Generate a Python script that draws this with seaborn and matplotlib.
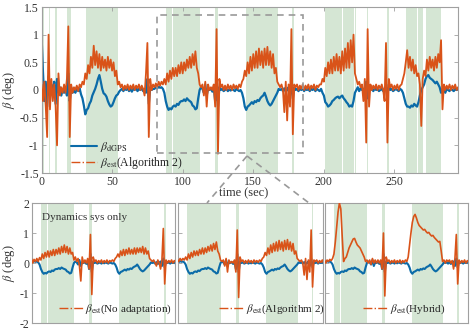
import numpy as np
import matplotlib
matplotlib.use("Agg")
import matplotlib.pyplot as plt
from matplotlib.lines import Line2D
from matplotlib.patches import Rectangle
import seaborn as sns

# ---------------- data (1 s samples) ----------------
t_main = list(range(0, 296))

beta_dgps = [
    1.0, 0.35, -0.2, 0.15, -0.3, 0.25, -0.1, 0.1, -0.05, 0.15,
    -0.25, 0.2, -0.05, 0.05, -0.1, 0.0, -0.05, 0.05, -0.1, 0.3,
    -0.2, 0.05, -0.05, 0.0, -0.05, 0.05, -0.02, 0.03, -0.08, -0.15,
    -0.28, -0.44, -0.36, -0.33, -0.25, -0.2, -0.1, -0.04, 0.02, 0.1,
    0.2, 0.27, 0.15, 0.02, -0.06, -0.08, -0.12, -0.2, -0.26, -0.3,
    -0.28, -0.22, -0.15, -0.1, -0.08, -0.03, 0.0, 0.02, -0.02, 0.03,
    0.0, 0.03, -0.02, 0.02, -0.03, 0.02, 0.0, 0.03, -0.02, 0.02,
    0.0, 0.03, -0.02, 0.02, -0.05, 0.2, -0.25, 0.05, 0.0, 0.02,
    0.02, 0.05, 0.03, 0.06, 0.04, 0.05, 0.02, -0.05, -0.2, -0.3,
    -0.36, -0.33, -0.35, -0.3, -0.28, -0.3, -0.25, -0.27, -0.22, -0.2,
    -0.2, -0.17, -0.2, -0.15, -0.18, -0.2, -0.22, -0.28, -0.3, -0.35,
    -0.33, -0.15, 0.0, 0.05, 0.02, -0.05, 0.1, -0.1, 0.02, 0.0,
    0.03, -0.03, 0.05, -0.2, 0.3, -0.3, 0.05, 0.0, 0.02, -0.02,
    0.0, 0.02, -0.02, 0.01, -0.01, 0.02, 0.0, -0.02, 0.02, 0.0,
    -0.02, 0.0, -0.05, -0.15, -0.3, -0.36, -0.3, -0.28, -0.25, -0.22,
    -0.25, -0.2, -0.22, -0.18, -0.2, -0.15, -0.12, -0.1, -0.05, -0.12,
    -0.2, -0.25, -0.28, -0.25, -0.2, -0.15, -0.1, -0.05, 0.02, 0.0,
    0.02, -0.02, 0.03, -0.03, 0.0, 0.05, -0.1, 0.15, -0.15, 0.05,
    0.0, 0.02, -0.02, 0.02, 0.0, 0.03, -0.02, 0.02, 0.0, 0.02,
    -0.02, 0.02, 0.0, 0.03, -0.02, 0.02, 0.0, -0.02, 0.02, -0.05,
    -0.1, -0.22, -0.25, -0.3, -0.28, -0.25, -0.2, -0.18, -0.15, -0.13,
    -0.12, -0.15, -0.12, -0.1, -0.15, -0.18, -0.22, -0.25, -0.3, -0.28,
    -0.3, -0.2, -0.05, 0.0, 0.05, -0.02, 0.03, 0.0, 0.02, -0.1,
    0.15, -0.15, 0.05, 0.0, 0.02, -0.02, 0.03, 0.0, 0.02, -0.02,
    0.0, 0.02, -0.02, 0.03, 0.05, -0.1, 0.1, 0.0, 0.02, -0.02,
    0.0, 0.02, 0.0, -0.02, 0.02, 0.0, -0.05, -0.15, -0.25, -0.3,
    -0.3, -0.32, -0.28, -0.3, -0.25, -0.28, -0.3, -0.22, -0.1, 0.0,
    0.05, 0.1, 0.2, 0.25, 0.27, 0.22, 0.2, 0.18, 0.15, 0.12,
    0.15, 0.1, 0.05, -0.05, 0.02, 0.0, -0.05, 0.02, 0.0, -0.02,
    0.02, 0.0, -0.02, 0.02, 0.0, 0.02,
]

beta_est_alg2 = [
    0.1, -0.2, 0.15, -0.3, -0.85, 1.0, -0.35, 0.2, -0.2, 0.1,
    -0.3, -1.0, 0.3, -0.1, 0.05, -0.05, 0.1, -0.05, 0.2, 1.15,
    -0.85, 0.1, -0.05, 0.05, 0.0, 0.08, -0.02, 0.1, 0.05, 0.15,
    0.1, 0.3, 0.2, 0.45, 0.3, 0.6, 0.4, 0.8, 0.45, 0.7,
    0.4, 0.65, 0.35, 0.6, 0.4, 0.55, 0.35, 0.6, 0.4, 0.55,
    0.35, 0.5, 0.25, 0.35, 0.1, 0.15, 0.05, 0.1, 0.0, 0.08,
    0.02, 0.1, 0.0, 0.08, 0.02, 0.1, 0.0, 0.08, 0.03, 0.1,
    0.0, 0.08, 0.02, -0.1, 0.3, 0.85, -0.85, 0.2, 0.0, 0.1,
    0.05, 0.12, 0.05, 0.15, 0.08, 0.15, 0.1, 0.2, 0.1, 0.3,
    0.15, 0.35, 0.2, 0.4, 0.25, 0.4, 0.25, 0.45, 0.3, 0.5,
    0.3, 0.5, 0.35, 0.55, 0.4, 0.6, 0.4, 0.65, 0.45, 0.7,
    0.4, 0.3, 0.1, 0.05, 0.1, -0.1, 0.15, -0.3, 0.1, 0.0,
    0.05, 0.0, 0.1, -0.3, 1.1, -1.15, 0.2, 0.05, 0.1, 0.0,
    0.08, 0.0, 0.1, 0.02, 0.08, 0.0, 0.1, 0.03, 0.08, 0.02,
    0.1, 0.05, 0.15, 0.2, 0.35, 0.25, 0.5, 0.3, 0.6, 0.35,
    0.65, 0.4, 0.7, 0.4, 0.75, 0.45, 0.7, 0.4, 0.75, 0.45,
    0.78, 0.45, 0.7, 0.4, 0.65, 0.3, 0.4, 0.15, 0.1, 0.05,
    0.1, 0.0, -0.4, 0.15, -0.55, 0.1, -0.3, 1.1, -0.8, 0.1,
    0.05, 0.1, 0.0, 0.08, 0.02, 0.1, 0.0, 0.08, 0.02, 0.1,
    0.0, 0.08, 0.03, 0.1, 0.0, 0.08, 0.05, 0.1, 0.1, 0.2,
    0.15, 0.4, 0.25, 0.5, 0.3, 0.55, 0.3, 0.6, 0.35, 0.65,
    0.35, 0.6, 0.3, 0.7, 0.35, 0.75, 0.4, 0.85, 0.4, 0.9,
    0.5, 1.0, 0.3, 0.2, 0.1, 0.15, 0.05, 0.1, -0.2, 0.2,
    -0.95, 1.1, -0.3, 0.1, 0.0, 0.08, 0.02, 0.1, 0.0, 0.08,
    0.02, 0.1, 0.0, -0.2, 0.85, -0.95, 0.2, 0.05, 0.1, 0.0,
    0.08, 0.02, 0.1, 0.0, 0.08, 0.1, 0.2, 0.3, 0.5, 0.72,
    0.4, 0.6, 0.35, 0.55, 0.3, 0.45, 0.25, 0.3, 0.1, -0.65,
    0.2, 0.35, 0.25, 0.55, 0.35, 0.6, 0.4, 0.55, 0.35, 0.6,
    0.4, 0.65, 0.5, 0.9, -0.35, 0.1, 0.0, 0.08, 0.02, 0.1,
    0.0, 0.08, 0.02, 0.1, 0.0, 0.05,
]

# zoomed window (bottom panels)
t_zoom = list(range(80, 187))

beta_est_noadapt = [
    0.05, 0.15, 0.0, 0.12, 0.05, 0.15, 0.05, 0.18, 0.1, 0.3,
    0.15, 0.35, 0.2, 0.4, 0.2, 0.4, 0.25, 0.45, 0.25, 0.45,
    0.3, 0.5, 0.3, 0.55, 0.35, 0.6, 0.35, 0.55, 0.3, 0.5,
    0.3, 0.35, 0.1, 0.2, 0.05, 0.15, -0.1, -0.6, 0.2, 0.0,
    0.1, 0.0, 0.15, -0.2, 0.95, -1.05, 0.2, 0.05, 0.1, 0.0,
    0.08, 0.02, 0.1, 0.0, 0.08, 0.02, 0.1, 0.0, 0.08, 0.05,
    0.1, 0.05, 0.15, 0.2, 0.3, 0.2, 0.4, 0.25, 0.45, 0.25,
    0.45, 0.3, 0.5, 0.3, 0.45, 0.3, 0.5, 0.3, 0.5, 0.35,
    0.5, 0.35, 0.55, 0.3, 0.5, 0.3, 0.4, 0.15, 0.1, 0.05,
    0.1, 0.0, -0.1, 0.1, 0.0, -0.2, 0.1, 1.15, -0.7, 0.1,
    0.0, 0.08, 0.02, 0.1, 0.0, 0.08, 0.02,
]

beta_est_hybrid = [
    0.05, 0.1, 0.0, 0.1, 0.05, 0.12, 0.08, 0.15, 0.3, 0.7,
    1.2, 1.7, 2.0, 1.8, 0.9, 0.05, 0.15, 0.2, 0.35, 0.5,
    0.6, 0.7, 0.8, 0.82, 0.7, 0.6, 0.55, 0.5, 0.4, 0.3,
    0.2, 0.05, 0.1, 0.0, 0.1, -0.05, 0.15, 0.0, 0.1, 0.0,
    0.1, 0.0, 0.1, -0.2, 1.0, -1.1, 0.2, 0.05, 0.1, 0.0,
    0.08, 0.02, 0.1, 0.0, 0.08, 0.02, 0.1, 0.0, 0.08, 0.02,
    0.1, 0.05, 0.2, 0.6, 1.0, 1.35, 1.55, 1.62, 1.5, 1.35,
    1.25, 1.2, 1.15, 1.1, 1.12, 1.05, 1.0, 1.02, 0.95, 0.9,
    0.92, 0.85, 0.8, 0.75, 0.7, 0.72, 0.4, 0.05, 0.1, 0.0,
    0.1, 0.05, 0.1, 0.0, 0.08, -0.2, 0.15, 0.95, -0.7, 0.1,
    0.0, 0.08, 0.02, 0.1, 0.0, 0.08, 0.02,
]

# shaded (green) intervals, seconds
band_start = [0.8, 5.0, 9.6, 18.0, 31.5, 88.0, 93.3, 123.0, 144.8, 177.4,
              201.0, 213.5, 222.0, 230.3, 244.8, 258.0, 267.0, 272.0]
band_end = [1.8, 6.0, 11.2, 20.7, 54.0, 92.7, 112.0, 125.0, 167.5, 178.6,
            213.0, 221.0, 223.0, 231.0, 246.0, 266.0, 270.0, 283.0]

main_xticks = [0, 50, 100, 150, 200, 250]
main_yticks = [-1.5, -1, -0.5, 0, 0.5, 1, 1.5]
main_yticklabels = ["-1.5", "-1", "-0.5", "0", "0.5", "1", "1.5"]
zoom_yticks = [-2, -1, 0, 1, 2]
zoom_yticklabels = ["-2", "-1", "0", "1", "2"]
zoom_window = (81.5, 185.5)

panel_labels = [r"$\beta_{\rm est}$(No adaptation)",
                r"$\beta_{\rm est}$(Algorithm 2)",
                r"$\beta_{\rm est}$(Hybrid)"]

# ---------------- style ----------------
sns.set_theme(style="white")
plt.rcParams["font.family"] = ["Liberation Serif", "DejaVu Serif"]
plt.rcParams["mathtext.fontset"] = "stix"
plt.rcParams["axes.unicode_minus"] = False

BLUE = "#0b6ba8"
ORANGE = "#d95319"
GREEN = "#d5e6d4"
SPINE = "#a0a0a0"
TXT = "#333333"
FS = 8.5
LFS = 8

W, H = 471, 332
fig = plt.figure(figsize=(W / 100, H / 100), dpi=100)


def fig_rect(l, t, r, b):
    return [l / W, 1 - b / H, (r - l) / W, (b - t) / H]


def style_axes(ax):
    for s in ax.spines.values():
        s.set_color(SPINE)
        s.set_linewidth(0.8)
    ax.tick_params(direction="in", length=3, width=0.6, color=SPINE,
                   labelsize=FS, labelcolor=TXT, top=True, right=True,
                   bottom=True, left=True, pad=2)


def shade(ax, lo, hi):
    for s, e in zip(band_start, band_end):
        if e > lo and s < hi:
            ax.axvspan(s, e, color=GREEN, lw=0, zorder=0)


# ---------------- main axes ----------------
ax = fig.add_axes(fig_rect(41.5, 7, 458, 173))
shade(ax, 0, 295)
sns.lineplot(x=t_main, y=beta_dgps, ax=ax, color=BLUE, lw=1.6, legend=False, zorder=2)
sns.lineplot(x=t_main, y=beta_est_alg2, ax=ax, color=ORANGE, lw=1.3,
             legend=False, zorder=3)
ax.set_xlim(0, 295)
ax.set_ylim(-1.5, 1.5)
ax.set_xticks(main_xticks)
ax.set_xticklabels([str(v) for v in main_xticks])
ax.set_yticks(main_yticks)
ax.set_yticklabels(main_yticklabels)
ax.set_xlabel("")
ax.set_ylabel(r"$\beta$ (deg)", fontsize=FS + 0.5, color=TXT, labelpad=2)
style_axes(ax)
ax.add_patch(Rectangle((zoom_window[0], -1.14), zoom_window[1] - zoom_window[0], 2.5,
                       fill=False, ec="#999999", lw=1.2, ls=(0, (4, 3)), zorder=5))
h = [Line2D([], [], color=BLUE, lw=1.5),
     Line2D([], [], color=ORANGE, lw=1.0, ls="-.")]
ax.legend(h, [r"$\beta_{\rm dGPS}$", r"$\beta_{\rm est}$(Algorithm 2)"],
          loc="lower left", bbox_to_anchor=(0.055, -0.03), frameon=False,
          fontsize=LFS + 0.5, handlelength=2.2, handletextpad=0.2,
          labelspacing=0.1, borderaxespad=0.2)

fig.text(244 / W, 1 - 193 / H, "time (sec)", ha="center", va="center",
         fontsize=FS + 0.5, color=TXT)

# callout lines
apex = (247 / W, 1 - 156 / H)
for end in [(207 / W, 1 - 203 / H), (309 / W, 1 - 203 / H)]:
    fig.add_artist(Line2D([apex[0], end[0]], [apex[1], end[1]],
                          transform=fig.transFigure, color="#999999",
                          lw=1.2, ls=(0, (4, 3))))

# ---------------- zoomed panels ----------------
i0 = t_main.index(t_zoom[0])
i1 = t_main.index(t_zoom[-1]) + 1
dgps_zoom = beta_dgps[i0:i1]
alg2_zoom = beta_est_alg2[i0:i1]
est_series = [beta_est_noadapt, alg2_zoom, beta_est_hybrid]

rects = [fig_rect(32, 203, 175, 323), fig_rect(178, 203, 323, 323),
         fig_rect(325, 203, 468, 323)]
leg_x = [0.14, 0.24, 0.22]

for k in range(3):
    a = fig.add_axes(rects[k])
    shade(a, *zoom_window)
    sns.lineplot(x=t_zoom, y=dgps_zoom, ax=a, color=BLUE, lw=1.5, legend=False, zorder=2)
    sns.lineplot(x=t_zoom, y=est_series[k], ax=a, color=ORANGE, lw=1.2,
                 legend=False, zorder=3)
    a.set_xlim(*zoom_window)
    a.set_ylim(-2, 2)
    a.set_xticks([])
    a.set_yticks(zoom_yticks)
    a.set_xlabel("")
    style_axes(a)
    if k == 0:
        a.set_yticklabels(zoom_yticklabels)
        a.set_ylabel(r"$\beta$ (deg)", fontsize=FS + 0.5, color=TXT, labelpad=2)
        a.text(0.07, 0.88, "Dynamics sys only", transform=a.transAxes,
               fontsize=LFS, color=TXT, va="center", ha="left")
    else:
        a.set_yticklabels([])
        a.set_ylabel("")
    a.legend([Line2D([], [], color=ORANGE, lw=1.0, ls="-.")], [panel_labels[k]],
             loc="lower left", bbox_to_anchor=(leg_x[k], 0.0), frameon=False,
             fontsize=LFS, handlelength=2.2, handletextpad=0.2,
             borderaxespad=0.2)

fig.savefig("out.png", dpi=100)
